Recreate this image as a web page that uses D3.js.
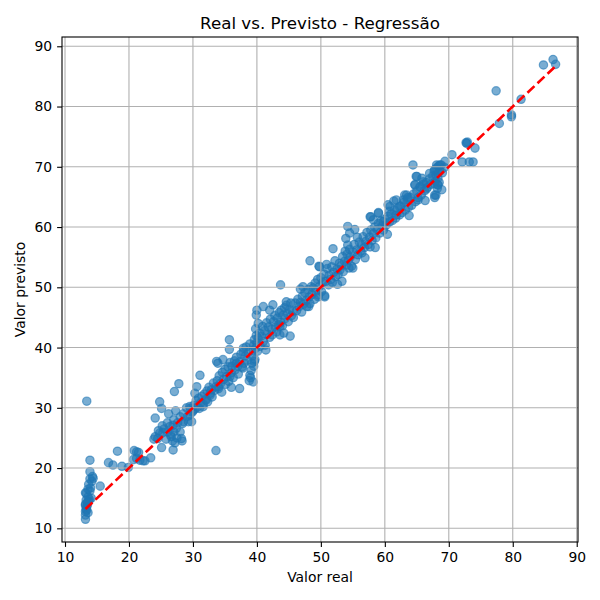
<!DOCTYPE html>
<html><head><meta charset="utf-8">
<script src="https://cdn.jsdelivr.net/npm/d3@7"></script>
<style>body{margin:0;background:#fff}</style>
</head><body><svg id="chart" width="600" height="600"></svg>
<script>
const chartTitle = "Real vs. Previsto - Regressão";
const xLabel = "Valor real";
const yLabel = "Valor previsto";
const xTicks = [10, 20, 30, 40, 50, 60, 70, 80, 90];
const yTicks = [10, 20, 30, 40, 50, 60, 70, 80, 90];

// [valor real, valor previsto]
const lowRange = [
  [13.2,11.5],[13.2,12.8],[13.3,13.2],[13.4,13.6],[13.2,14.0],[13.5,14.3],[13.3,15.8],[13.2,15.9],
  [13.6,15.2],[13.8,14.8],[13.9,16.2],[14.0,16.7],[13.7,17.3],[14.2,17.8],[13.9,18.2],[14.3,18.6],
  [13.9,19.4],[13.9,21.3],[13.4,31.1],[15.5,17.0],[13.2,13.8],[13.6,12.6],[13.4,13.0],[14.1,15.0],
  [13.2,12.2],[13.5,13.9],[13.7,14.5],[14.4,18.3],[13.3,14.7],[13.6,16.5],
  [16.8,20.9],[17.5,20.5],[18.2,22.8],[18.9,20.3],[19.9,20.1],[20.8,22.9],[21.5,22.6],[21.2,21.6],
  [21.7,21.3],[22.5,21.2],[23.4,21.7],[20.7,21.4],[22.2,21.2],[21.2,22.7]
];
const lowerMidRange = [
  [23.9,24.8],[24.1,25.2],[24.8,25.8],[25.1,23.4],[24.1,28.3],[24.8,31.0],[25.1,29.9],[27.1,32.7],
  [27.8,34.0],[33.6,22.9],[26.4,26.9],[26.6,25.2],[26.9,23.0],[28.2,24.9],[28.4,27.4],[29.3,27.7],
  [29.5,30.2],[30.6,33.5],[31.1,35.4],[30.3,32.4],[32.1,31.3],[31.6,30.2],
  [25.5,26.5],[26.0,27.5],[26.5,25.5],[27.0,26.0],[27.0,28.0],[27.3,29.5],[27.5,25.0],[26.8,24.5],
  [28.0,28.5],[28.5,29.0],[29.0,30.0],[25.8,24.8],[25.2,27.0],[26.2,29.0],[27.2,24.2],[28.3,24.5],
  [28.0,26.0],[29.5,28.8],[30.0,29.5],[24.5,24.9],[25.3,25.9],[26.9,27.1],[27.6,27.5],[29.8,27.7],
  [28.5,27.7],[24.6,26.2],[27.4,26.6],[26.1,26.0],
  [29.2,28.6],[29.6,29.9],[29.9,29.3],[30.1,30.4],[30.3,29.8],[30.5,31.2],[30.7,30.1],[30.9,31.6],
  [31.0,29.9],[31.2,30.8],[31.4,31.9],[31.6,30.6],[31.8,32.3],[32.0,31.4],[32.2,32.8],[32.3,31.0],
  [32.5,33.4],[32.7,32.1],[32.9,33.0],[33.0,31.8],[33.2,34.1],[33.4,32.9],[33.6,33.5],[33.8,34.5]
];
const midRange = [
  [34.0,33.2],[34.1,35.3],[34.3,34.0],[34.5,32.6],[34.6,35.9],[34.8,34.7],[35.0,36.4],[35.1,33.9],
  [35.3,35.2],[35.5,36.8],[35.6,34.4],[35.8,37.5],[36.0,35.8],[36.1,36.9],[36.3,35.0],[36.5,37.8],
  [36.6,36.3],[36.8,38.4],[37.0,36.9],[37.1,35.6],[37.3,37.6],[37.5,38.9],[37.7,36.8],[37.9,39.3],
  [38.0,37.4],[38.2,38.6],[38.3,40.1],[38.5,37.9],[38.7,39.2],[38.9,40.6],
  [39.0,35.0],[39.1,36.2],[39.2,37.4],[39.3,38.6],[39.4,39.5],[39.5,40.4],[39.6,41.3],[39.7,38.0],
  [39.8,39.9],[39.9,42.0],[40.0,40.8],[39.5,36.9],[39.8,43.1],[40.1,39.4],[40.2,41.6],[39.4,34.3],[39.6,37.7],
  [40.4,42.4],[40.5,40.2],[40.7,41.9],[40.9,43.5],[41.0,41.0],[41.2,42.8],[41.3,40.4],[41.5,44.1],
  [41.6,42.2],[41.8,43.4],[42.0,41.7],[42.1,44.7],[42.3,43.0],[42.4,42.1],[42.6,44.3],[42.8,45.3],
  [42.9,43.4],[43.1,42.6],[43.2,44.9],[43.4,43.8],[43.5,45.8],[43.7,44.2],[43.8,46.2],[44.0,43.6],
  [44.1,45.4],[44.3,46.6],[44.4,44.8],[44.6,47.0],[44.8,45.6],[44.9,44.3],[45.1,46.3],[45.3,47.4],
  [45.4,45.3],[45.6,46.0],[45.7,45.0],
  [35.7,41.3],[35.7,39.7],[33.7,37.7],[34.7,38.0],[37.3,33.2],[36.0,33.4],[38.9,35.4],[38.8,34.5],
  [33.9,37.4],[35.8,35.2],[37.8,36.6],[36.8,37.4],[34.0,33.5],[32.7,32.4],[37.9,39.9],
  [40.0,46.2],[39.9,45.4],[40.2,44.0],[41.0,46.8],[42.5,47.1],[42.0,46.2],[43.6,43.5],[45.2,41.9],
  [43.6,42.1],[43.7,50.4],[44.6,47.6],[44.2,42.4],[46.8,49.7],[41.4,39.6]
];
const upperMidRange = [
  [46.0,47.4],[46.2,46.1],[46.4,48.0],[46.6,46.8],[46.8,47.5],[47.0,45.9],[47.1,48.5],[47.3,47.2],
  [47.5,49.1],[47.7,47.8],[47.8,46.8],[48.0,49.6],[48.2,48.4],[48.3,47.3],[48.5,50.1],[48.6,48.8],
  [48.8,49.9],[49.0,48.0],[49.1,50.7],[49.3,49.4],[49.5,51.3],[49.6,48.7],[49.8,50.2],[50.0,51.6],
  [50.1,49.3],[50.3,50.8],[50.5,52.2],[50.6,48.6],[50.8,51.0],[51.0,53.1],
  [51.2,50.4],[51.3,52.0],[51.5,51.3],[51.7,53.4],[51.8,50.8],[52.0,52.5],[52.2,54.4],[52.3,51.8],
  [52.5,53.0],[52.7,52.1],[52.9,54.0],[53.0,52.9],[53.2,53.6],[53.4,55.1],[53.5,52.6],[53.7,54.3],
  [53.8,56.0],[54.0,53.7],[54.1,55.5],[54.2,57.0],[54.3,54.5],[54.4,53.2],[54.5,56.3],[54.6,55.0],
  [54.8,53.5],[55.0,55.8],[55.2,57.1],[55.4,54.6],[55.6,56.2],[55.8,55.4],
  [56.0,57.5],[56.2,56.0],[56.4,57.0],[56.6,58.4],[56.8,56.6],[57.0,57.6],[57.2,59.1],[57.4,57.1],
  [57.6,58.3],[57.8,59.5],[58.0,57.8],[58.2,58.9],[58.4,60.0],[58.6,58.2],[58.8,59.6],[59.0,60.6],
  [59.2,59.0],[59.4,61.0],[59.6,60.2],[59.8,59.5],[60.0,61.3],[60.2,60.3],[60.5,61.8],[60.7,60.8],
  [61.0,62.2],[61.2,61.1],[61.5,62.8],[61.7,61.5],[62.0,63.1],[62.3,62.0],
  [47.2,50.1],[50.6,48.4],[49.7,53.5],[48.3,54.4],[51.9,56.4],[54.2,60.1],[53.9,58.1],[54.5,59.0],
  [55.3,59.6],[57.8,61.7],[59.0,62.3],[57.7,56.7],[56.4,55.7],[55.0,53.2],[49.8,53.4],[49.6,48.4],[48.1,46.8],
  [50.9,53.8],[52.6,50.5],[53.3,51.0],[55.7,58.3],[56.9,54.9],[58.5,56.6],[60.4,58.8],[61.4,64.3]
];
const highRange = [
  [62.5,63.5],[62.7,62.4],[63.0,64.1],[63.2,62.8],[63.5,64.6],[63.7,63.3],[64.0,64.9],[64.2,63.6],
  [64.5,65.5],[64.8,64.2],[65.0,66.0],[65.2,64.9],[65.5,66.6],[65.7,65.3],[66.0,67.1],[66.2,66.0],
  [66.5,67.4],[66.7,66.6],[67.0,68.0],[67.2,67.1],
  [67.5,68.5],[67.7,69.3],[67.9,67.6],[68.1,69.8],[68.2,66.4],[68.3,68.9],[68.4,70.1],[68.5,67.4],
  [68.6,69.3],[68.8,70.3],[69.0,69.0],[69.3,69.9],
  [60.5,63.7],[61.8,64.5],[63.4,65.3],[64.7,67.0],[65.0,68.4],[67.8,65.3],[68.0,68.6],[68.3,67.0],
  [64.4,70.3],[70.5,72.0],[72.7,74.0],[74.1,73.1],[72.1,70.8],[73.2,70.8],[73.8,70.8],[69.4,70.9],
  [68.1,70.3],[68.6,70.3],[67.8,69.5],[67.0,68.9],[68.3,68.1],[68.3,67.0],[68.0,65.3],[67.8,64.9],
  [64.9,68.4],[66.0,67.5],[65.5,66.7],[64.7,67.0],[66.5,66.3],[63.1,65.3],[62.9,64.5],[65.2,64.5],
  [63.6,64.9],[62.3,63.4],[60.8,63.4],[60.7,62.6],[59.0,62.4],[61.8,62.0],[57.7,61.7],[58.2,61.2],
  [59.7,60.9],[68.9,66.2],[67.8,67.2],[63.8,61.9],[66.3,64.4],[65.8,68.1],
  [84.8,86.9],[86.3,87.8],[86.7,87.0],[77.4,82.6],[81.3,81.2],[79.8,78.6],[79.8,78.3],[77.9,77.2],
  [72.8,73.9],[72.9,74.1]
];

const points = [].concat(lowRange, lowerMidRange, midRange, upperMidRange, highRange);

const svg = d3.select("#chart");
const plotLeft = 62, plotRight = 578, plotTop = 37, plotBottom = 542;
const x = d3.scaleLinear().domain([9.53, 90.2]).range([plotLeft, plotRight]);
const y = d3.scaleLinear().domain([7.73, 91.54]).range([plotBottom, plotTop]);
const font = "DejaVu Sans, sans-serif";

// points
svg.append("g").selectAll("circle").data(points).join("circle")
  .attr("cx", d => x(d[0])).attr("cy", d => y(d[1])).attr("r", 4.17)
  .attr("fill", "#1f77b4").attr("fill-opacity", 0.6)
  .attr("stroke", "#1f77b4").attr("stroke-opacity", 0.6).attr("stroke-width", 1.2);

// grid (above scatter, as in matplotlib)
const grid = svg.append("g").attr("stroke", "#b0b0b0").attr("stroke-width", 1.1);
grid.selectAll("line.v").data(xTicks).join("line").attr("class","v")
  .attr("x1", d => x(d)).attr("x2", d => x(d)).attr("y1", plotTop).attr("y2", plotBottom);
grid.selectAll("line.h").data(yTicks).join("line").attr("class","h")
  .attr("y1", d => y(d)).attr("y2", d => y(d)).attr("x1", plotLeft).attr("x2", plotRight);

// reference line y = x
const ext = d3.extent(points, d => d[0]);
svg.append("line")
  .attr("x1", x(ext[0])).attr("y1", y(ext[0]))
  .attr("x2", x(ext[1])).attr("y2", y(ext[1]))
  .attr("stroke", "red").attr("stroke-width", 2.6).attr("stroke-dasharray", "9.6,4.2");

// axes
const xAxis = svg.append("g").attr("transform", `translate(0,${plotBottom})`)
  .call(d3.axisBottom(x).tickValues(xTicks).tickSize(4.9).tickPadding(4.9).tickFormat(d3.format("d")));
const yAxis = svg.append("g").attr("transform", `translate(${plotLeft},0)`)
  .call(d3.axisLeft(y).tickValues(yTicks).tickSize(4.9).tickPadding(4.9).tickFormat(d3.format("d")));
[xAxis, yAxis].forEach(a => {
  a.select(".domain").remove();
  a.selectAll("line").attr("stroke", "#000").attr("stroke-width", 1.1);
  a.selectAll("text").attr("font-family", font).attr("font-size", 13.9).attr("fill", "#000");
});

// spines
svg.append("rect").attr("x", plotLeft).attr("y", plotTop)
  .attr("width", plotRight - plotLeft).attr("height", plotBottom - plotTop)
  .attr("fill", "none").attr("stroke", "#000").attr("stroke-width", 1.1);

// labels
svg.append("text").attr("x", (plotLeft + plotRight) / 2).attr("y", 29).attr("text-anchor", "middle")
  .attr("font-family", font).attr("font-size", 16.7).text(chartTitle);
svg.append("text").attr("x", (plotLeft + plotRight) / 2).attr("y", 582).attr("text-anchor", "middle")
  .attr("font-family", font).attr("font-size", 13.9).text(xLabel);
svg.append("text").attr("transform", `translate(25,${(plotTop + plotBottom) / 2}) rotate(-90)`)
  .attr("text-anchor", "middle")
  .attr("font-family", font).attr("font-size", 13.9).text(yLabel);
</script>
</body></html>
